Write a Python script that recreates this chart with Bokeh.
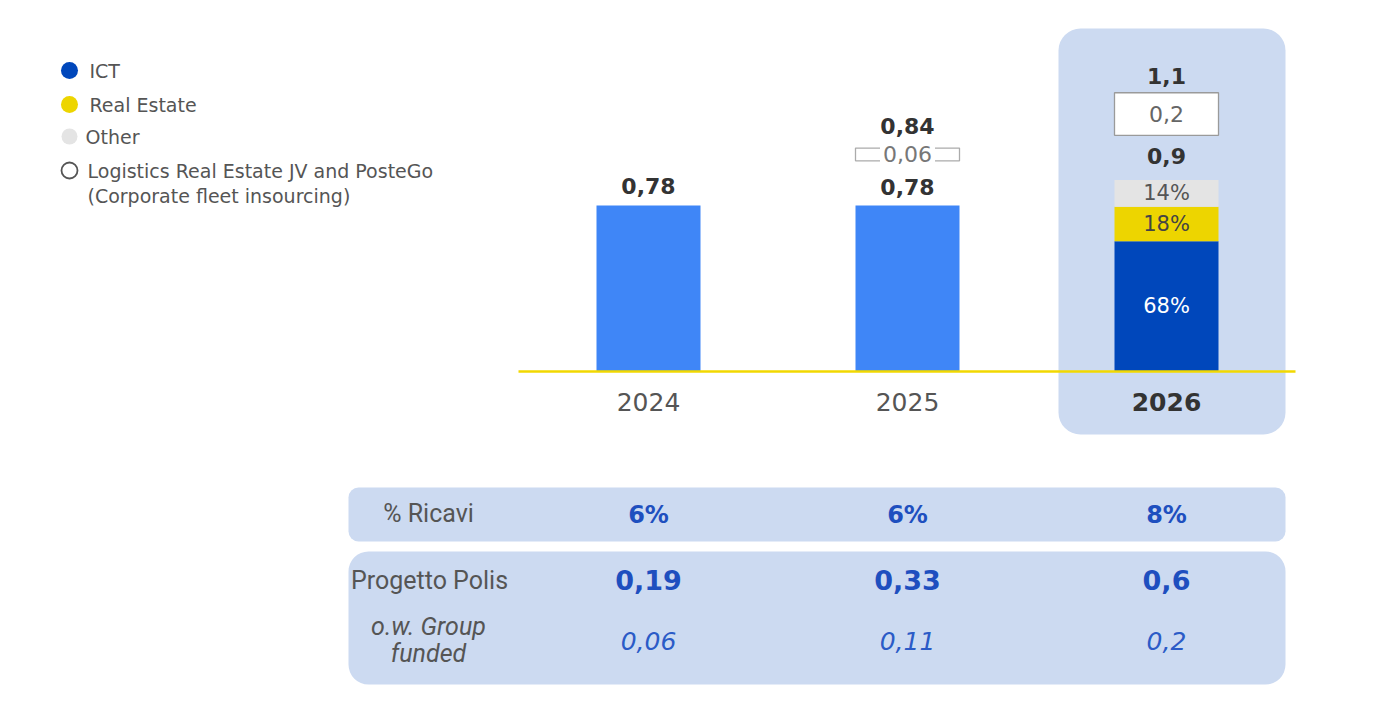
from bokeh.plotting import figure
from bokeh.models import Range1d, BoxAnnotation
from bokeh.core.properties import value
from bokeh.embed import file_html
from bokeh.resources import INLINE

# ---- data (bn EUR) ----
years = ["2024", "2025", "2026"]
core_capex = [0.78, 0.78, 0.9]          # solid bar
jv_posteGo = [0.0, 0.06, 0.2]           # Logistics RE JV and PosteGo add-on
total_capex = [0.78, 0.84, 1.1]
mix_names = ["ICT", "Real Estate", "Other"]
mix_2026_pct = [68, 18, 14]
ricavi_pct = [6, 6, 8]
progetto_polis = [0.19, 0.33, 0.6]
polis_group_funded = [0.06, 0.11, 0.2]

# ---- layout ----
W, H = 1392, 716
X0_PX, STEP_PX = 648, 259      # first category centre, category spacing
BASE_PX, UNIT_PX = 371, 212.8  # baseline, pixels per bn


def sx(px):
    return (px - X0_PX) / STEP_PX


def sy(py):
    return (BASE_PX - py) / UNIT_PX


def it(v):
    return f"{v:g}".replace(".", ",")


BAR_W = 104 / STEP_PX
GAP = 0.21  # space between bar top and add-on box

C_BAR = "#3F86F7"
C_ICT = "#0047BB"
C_RE = "#EDD500"
C_OTHER = "#E4E4E4"
C_HL = "#CCDAF1"
C_TXT = "#333333"
C_GREY = "#555555"
C_TAB = "#1E4FBF"
FONT = value("DejaVu Sans")
FONT2 = value("Roboto")

p = figure(width=W, height=H, output_backend="svg", toolbar_location=None,
           x_range=Range1d(sx(0), sx(W)), y_range=Range1d(sy(H), sy(0)),
           min_border=0)
p.axis.visible = False
p.grid.visible = False
p.outline_line_color = None
p.background_fill_color = "white"

# highlight column for 2026 and the table bands
for l, r, t, b, rad in [(1058, 1285, 28, 434, 22),
                        (348, 1285, 487, 541, 10),
                        (348, 1285, 551, 684, 20)]:
    p.add_layout(BoxAnnotation(left=sx(l), right=sx(r), top=sy(t), bottom=sy(b),
                               fill_color=C_HL, fill_alpha=1, line_color=None,
                               border_radius=rad, level="underlay"))

xs = list(range(len(years)))

# solid bars 2024-2025
p.vbar(x=xs[:2], width=BAR_W, bottom=0, top=core_capex[:2], fill_color=C_BAR, line_color=None)

# 2026 stacked mix
mix_colors = [C_ICT, C_RE, C_OTHER]
bottoms, tops = [], []
acc = 0.0
for pct in mix_2026_pct:
    bottoms.append(acc)
    acc += core_capex[2] * pct / 100
    tops.append(acc)
p.vbar(x=[xs[2]] * 3, width=BAR_W, bottom=bottoms, top=tops, fill_color=mix_colors, line_color=None)
mids = [(b + t) / 2 for b, t in zip(bottoms, tops)]
p.text(x=[xs[2]] * 3, y=mids, text=[f"{v}%" for v in mix_2026_pct],
       text_color=["white", "#444444", "#555555"], text_font=FONT, text_font_size="21px",
       text_align="center", text_baseline="middle")

# baseline
p.segment(x0=sx(518), x1=sx(1295), y0=0, y1=0, line_color="#F2D800", line_width=2.5)

# add-on boxes (JV and PosteGo)
add_x = [x for x, v in zip(xs, jv_posteGo) if v > 0]
add_b = [c + GAP for c, v in zip(core_capex, jv_posteGo) if v > 0]
add_t = [c + GAP + v for c, v in zip(core_capex, jv_posteGo) if v > 0]
add_v = [v for v in jv_posteGo if v > 0]
p.vbar(x=add_x, width=BAR_W, bottom=add_b, top=add_t, fill_color="white",
       line_color=["#ABABAB", "#9A9A9A"], line_width=1.3)
p.text(x=add_x, y=[(b + t) / 2 for b, t in zip(add_b, add_t)], text=[it(v) for v in add_v],
       text_color=["#777777", "#666666"], text_font=FONT, text_font_size="22px",
       text_align="center", text_baseline="middle",
       background_fill_color=["white", None], padding=3)

# value labels
lab_x = xs + add_x
lab_y = core_capex + add_t
lab_t = [it(v) for v in core_capex] + [it(v) for v, a in zip(total_capex, jv_posteGo) if a > 0]
p.text(x=lab_x, y=lab_y, text=lab_t, text_color=C_TXT, text_font=FONT,
       text_font_style="bold", text_font_size="22px", text_align="center",
       text_baseline="middle", y_offset=[-20, -19, -24, -22, -17])

# year labels
p.text(x=xs[:2], y=[0, 0], text=years[:2], text_color=C_GREY, text_font=FONT,
       text_font_size="25px", text_align="center", text_baseline="middle", y_offset=30)
p.text(x=[xs[2]], y=[0], text=[years[2]], text_color=C_TXT, text_font=FONT,
       text_font_style="bold", text_font_size="25px", text_align="center",
       text_baseline="middle", y_offset=30)

# legend
leg_y = [sy(70), sy(104), sy(136), sy(170)]
leg_txt = mix_names + ["Logistics Real Estate JV and PosteGo"]
p.scatter(x=[sx(69)] * 4, y=leg_y, size=[17, 17, 16, 16],
          fill_color=[C_ICT, C_RE, C_OTHER, "white"],
          line_color=[None, None, None, "#555555"], line_width=1.8)
p.text(x=[sx(89), sx(89), sx(85), sx(87)], y=leg_y, text=leg_txt, text_color=C_GREY,
       text_font=FONT, text_font_size="19px", text_baseline="middle")
p.text(x=[sx(87)], y=[sy(195)], text=["(Corporate fleet insourcing)"], text_color=C_GREY,
       text_font=FONT, text_font_size="19px", text_baseline="middle")

# table
p.text(x=[sx(428)], y=[sy(513)], text=["% Ricavi"], text_color=C_GREY, text_font=FONT2,
       text_font_size="25px", text_align="center", text_baseline="middle")
p.text(x=xs, y=[sy(514)] * 3, text=[f"{v}%" for v in ricavi_pct], text_color=C_TAB,
       text_font=FONT, text_font_style="bold", text_font_size="24px",
       text_align="center", text_baseline="middle")
p.text(x=[sx(429)], y=[sy(580)], text=["Progetto Polis"], text_color=C_GREY, text_font=FONT2,
       text_font_size="25px", text_align="center", text_baseline="middle")
p.text(x=xs, y=[sy(579)] * 3, text=[it(v) for v in progetto_polis], text_color=C_TAB,
       text_font=FONT, text_font_style="bold", text_font_size="27px",
       text_align="center", text_baseline="middle")
p.text(x=[sx(428)] * 2, y=[sy(626), sy(653)], text=["o.w. Group", "funded"], text_color=C_GREY,
       text_font=FONT2, text_font_style="italic", text_font_size="25px",
       text_align="center", text_baseline="middle")
p.text(x=xs, y=[sy(640)] * 3, text=[it(v) for v in polis_group_funded], text_color="#2B5BC7",
       text_font=FONT, text_font_style="italic", text_font_size="25px",
       text_align="center", text_baseline="middle")

open("out.html", "w").write(file_html(p, INLINE))
